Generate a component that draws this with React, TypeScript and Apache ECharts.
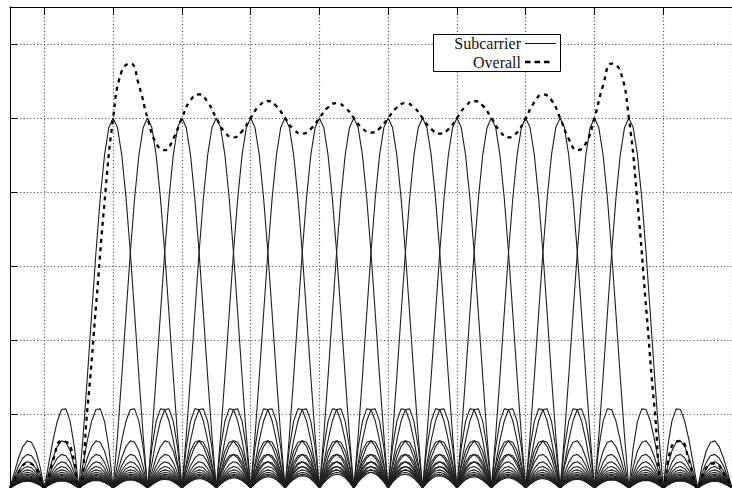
import React, { useEffect, useRef } from "react";
import * as echarts from "echarts";

// Subcarrier centre frequencies (in subcarrier-spacing units)
const subcarrierCenters = [0, 1, 2, 3, 4, 5, 6, 7, 8, 9, 10, 11, 12, 13, 14, 15];

// One-sided magnitude profile of a single subcarrier,
// sampled every PROFILE_STEP away from its centre (same for both sides).
const PROFILE_STEP = 0.125;
const subcarrierProfile = [
  1, 0.9745, 0.9003, 0.7842, 0.6366, 0.4705, 0.3001, 0.1392,
  0, 0.1083, 0.1801, 0.2139, 0.2122, 0.181, 0.1286, 0.065,
  0, 0.0573, 0.1, 0.1238, 0.1273, 0.112, 0.0818, 0.0424,
  0, 0.039, 0.0693, 0.0871, 0.0909, 0.0811, 0.06, 0.0314,
  0, 0.0295, 0.053, 0.0672, 0.0707, 0.0636, 0.0474, 0.025,
  0, 0.0238, 0.0429, 0.0547, 0.0579, 0.0523, 0.0391, 0.0207,
  0, 0.0199, 0.036, 0.0461, 0.049, 0.0444, 0.0333, 0.0177,
  0, 0.0171, 0.031, 0.0399, 0.0424, 0.0386, 0.029, 0.0155,
  0, 0.015, 0.0273, 0.0351, 0.0374, 0.0341, 0.0257, 0.0137,
  0, 0.0133, 0.0243, 0.0314, 0.0335, 0.0306, 0.0231, 0.0123,
  0, 0.012, 0.022, 0.0283, 0.0303, 0.0277, 0.0209, 0.0112,
  0, 0.0109, 0.02, 0.0259, 0.0277, 0.0253, 0.0192, 0.0103,
  0, 0.01, 0.0184, 0.0238, 0.0255, 0.0233, 0.0177, 0.0095,
  0, 0.0093, 0.017, 0.022, 0.0236, 0.0216, 0.0164, 0.0088,
  0, 0.0086, 0.0158, 0.0205, 0.022, 0.0201, 0.0153, 0.0082,
  0, 0.0081, 0.0148, 0.0191, 0.0205, 0.0188, 0.0143, 0.0077,
  0, 0.0076, 0.0139, 0.018, 0.0193, 0.0177, 0.0134, 0.0072,
  0, 0.0071, 0.013, 0.0169, 0.0182, 0.0167, 0.0127, 0.0068,
  0,
];

// Overall spectrum magnitude, from OVERALL_START every OVERALL_STEP
const OVERALL_START = -3;
const OVERALL_STEP = 0.25;
const overallValues = [
  0, 0.0417, 0.0668, 0.0541,
  0, 0.0742, 0.1272, 0.113,
  0, 0.2125, 0.4901, 0.7734,
  1, 1.1271, 1.1472, 1.0883,
  1, 0.9317, 0.913, 0.9439,
  1, 1.0481, 1.0639, 1.0427,
  1, 0.9611, 0.9475, 0.9643,
  1, 1.0333, 1.0459, 1.0317,
  1, 0.9695, 0.9577, 0.9706,
  1, 1.0286, 1.0402, 1.0282,
  1, 0.9719, 0.9604, 0.9719,
  1, 1.0282, 1.0402, 1.0286,
  1, 0.9706, 0.9577, 0.9695,
  1, 1.0317, 1.0459, 1.0333,
  1, 0.9643, 0.9475, 0.9611,
  1, 1.0427, 1.0639, 1.0481,
  1, 0.9439, 0.913, 0.9317,
  1, 1.0883, 1.1472, 1.1271,
  1, 0.7734, 0.4901, 0.2125,
  0, 0.113, 0.1272, 0.0742,
  0, 0.0541, 0.0668, 0.0417,
  0,
];

const X_MIN = -3;
const X_MAX = 18;
const xGridTicks = [-2, 0, 2, 4, 6, 8, 10, 12, 14, 16, 18];
const Y_MIN = 0;
const Y_MAX = 1.3;
const Y_INTERVAL = 0.2;
const legendLabels = ["Subcarrier", "Overall"];

function subcarrierPoints(c: number): number[][] {
  const pts: number[][] = [];
  const iMin = Math.round((X_MIN - c) / PROFILE_STEP);
  const iMax = Math.round((X_MAX - c) / PROFILE_STEP);
  for (let i = iMin; i <= iMax; i++) {
    const v = subcarrierProfile[Math.abs(i)];
    if (v === undefined) continue;
    pts.push([c + i * PROFILE_STEP, v]);
  }
  return pts;
}

const overallPoints = overallValues.map((v, i) => [OVERALL_START + i * OVERALL_STEP, v]);

export default function App() {
  const ref = useRef<HTMLDivElement>(null);

  useEffect(() => {
    if (!ref.current) return;
    const chart = echarts.init(ref.current, null, { renderer: "svg" });
    const gridLine = { color: "#5a5a5a", width: 1.2, type: [1.2, 2.2] as any };
    const series: any[] = subcarrierCenters.map((c) => ({
      type: "line",
      name: legendLabels[0],
      data: subcarrierPoints(c),
      symbol: "none",
      silent: true,
      z: 2,
      lineStyle: { color: "#1e1e1e", width: 1.1 },
    }));
    series.push({
      type: "line",
      name: legendLabels[1],
      data: overallPoints,
      symbol: "none",
      smooth: true,
      silent: true,
      z: 3,
      lineStyle: { color: "#000", width: 2.3, type: [4, 4.5] },
    });

    const legendText = (text: string, y: number) => ({
      type: "text",
      z: 101,
      style: {
        text,
        x: 521,
        y,
        align: "right",
        verticalAlign: "middle",
        textAlign: "right",
        textVerticalAlign: "middle",
        font: '16px "Liberation Serif"',
        lineHeight: 15,
        fill: "#111",
      },
    });

    chart.setOption({
      animation: false,
      backgroundColor: "#fff",
      grid: { left: 10, top: 7, width: 730, bottom: -1, containLabel: false },
      xAxis: {
        type: "value",
        position: "top",
        min: X_MIN,
        max: X_MAX,
        axisLine: { show: true, onZero: false, lineStyle: { color: "#000", width: 1 } },
        axisTick: { show: true, inside: true, length: 8, customValues: xGridTicks, lineStyle: { color: "#000" } },
        axisLabel: { show: false },
        splitLine: { show: true, lineStyle: gridLine },
      },
      yAxis: {
        type: "value",
        min: Y_MIN,
        max: Y_MAX,
        interval: Y_INTERVAL,
        axisLine: { show: true, onZero: false, lineStyle: { color: "#000", width: 1 } },
        axisTick: { show: true, inside: true, length: 7, lineStyle: { color: "#000" } },
        axisLabel: { show: false },
        splitLine: { show: true, lineStyle: gridLine },
      },
      series,
      graphic: [
        {
          type: "rect",
          z: 100,
          shape: { x: 433.5, y: 34.5, width: 127, height: 37 },
          style: { fill: "#fff", stroke: "#000", lineWidth: 1 },
        },
        legendText(legendLabels[0], 43.5),
        legendText(legendLabels[1], 62.5),
        {
          type: "line",
          z: 101,
          shape: { x1: 525, y1: 43.5, x2: 556, y2: 43.5 },
          style: { stroke: "#111", lineWidth: 1 },
        },
        {
          type: "line",
          z: 101,
          shape: { x1: 525, y1: 62, x2: 552, y2: 62 },
          style: { stroke: "#000", lineWidth: 2.3, lineDash: [5.5, 4] },
        },
      ],
    });
    return () => chart.dispose();
  }, []);

  return (
    <div
      ref={ref}
      style={{ position: "fixed", left: 0, top: 0, width: 732, height: 488, background: "#fff" }}
    />
  );
}
